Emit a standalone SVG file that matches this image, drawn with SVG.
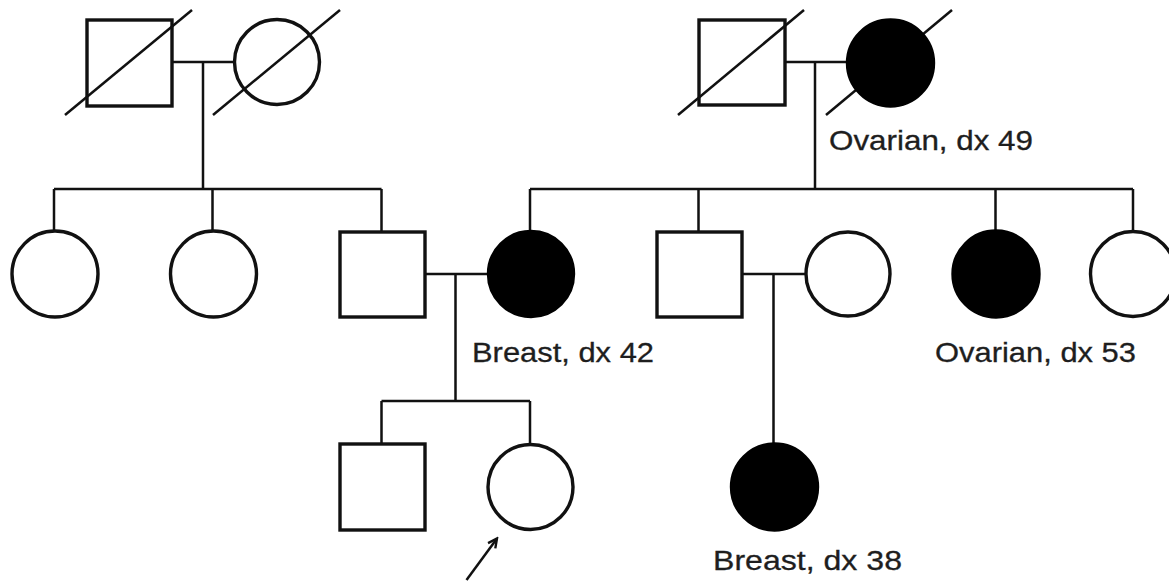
<svg xmlns="http://www.w3.org/2000/svg" width="1169" height="583" viewBox="0 0 1169 583">
  <style>
    .sh { fill: #fff; stroke: #111; stroke-width: 3.4; }
    .aff { fill: #000; stroke: #000; stroke-width: 3.4; }
    .dead { stroke: #111; stroke-width: 2.5; fill: none; }
    .ln { stroke: #111; stroke-width: 2.5; fill: none; }
    .lbl { font-family: "Liberation Sans", Arial, sans-serif; font-size: 27.5px; fill: #1e1e1e; stroke: #1e1e1e; stroke-width: 0.3; }
  </style>
  <defs>
    <marker id="ah" viewBox="0 0 12 12" refX="10" refY="6" markerWidth="12" markerHeight="12" markerUnits="userSpaceOnUse" orient="auto">
      <path d="M1,1.5 L10,6 L1,10.5" fill="none" stroke="#111" stroke-width="2.4"/>
    </marker>
  </defs>
  <rect width="1169" height="583" fill="#fff"/>

  <g id="connectors">
    <path class="ln" d="M172,62 H235 M203,62 V189"/>
    <path class="ln" d="M54,189 H381.5 M54,189 V231 M212.5,189 V231 M381.5,189 V232"/>
    <path class="ln" d="M785,62 H847 M815,62 V189"/>
    <path class="ln" d="M530,189 H1133 M530,189 V231 M698.5,189 V232 M995.5,189 V231 M1133,189 V231"/>
    <path class="ln" d="M425,274 H488 M455.5,274 V401 M381.5,401 H530 M381.5,401 V444 M530,401 V444"/>
    <path class="ln" d="M742,274 H806 M773.5,274 V444"/>
    <line class="ln" x1="466.5" y1="580" x2="497" y2="538.5" marker-end="url(#ah)"/>
  </g>

  <g id="gp_paternal_male">
    <rect class="sh" x="87" y="20" width="85" height="86"/>
    <line class="dead" x1="65" y1="115" x2="192" y2="10"/>
  </g>
  <g id="gp_paternal_female">
    <circle class="sh" cx="277" cy="62" r="42.5"/>
    <line class="dead" x1="213" y1="115" x2="340" y2="10"/>
  </g>
  <g id="gp_maternal_male">
    <rect class="sh" x="699" y="20" width="86" height="85"/>
    <line class="dead" x1="678" y1="115" x2="804" y2="10"/>
  </g>
  <g id="gp_maternal_female">
    <line class="dead" x1="826" y1="115" x2="952" y2="10"/>
    <circle class="aff" cx="890.5" cy="63" r="43"/>
    <text class="lbl" x="829" y="150" textLength="204" lengthAdjust="spacingAndGlyphs">Ovarian, dx 49</text>
  </g>

  <g id="aunt1"><circle class="sh" cx="55" cy="274" r="43"/></g>
  <g id="aunt2"><circle class="sh" cx="213.5" cy="274" r="43"/></g>
  <g id="father"><rect class="sh" x="340" y="232" width="85" height="85"/></g>
  <g id="mother">
    <circle class="aff" cx="531" cy="274" r="42.5"/>
    <text class="lbl" x="472" y="362" textLength="182" lengthAdjust="spacingAndGlyphs">Breast, dx 42</text>
  </g>
  <g id="uncle"><rect class="sh" x="657" y="232" width="85" height="85"/></g>
  <g id="uncle_wife"><circle class="sh" cx="848" cy="274" r="42"/></g>
  <g id="aunt3">
    <circle class="aff" cx="996" cy="274" r="43"/>
    <text class="lbl" x="935" y="362" textLength="201" lengthAdjust="spacingAndGlyphs">Ovarian, dx 53</text>
  </g>
  <g id="aunt4"><circle class="sh" cx="1133" cy="274" r="42.5"/></g>

  <g id="brother"><rect class="sh" x="340" y="444" width="85" height="86"/></g>
  <g id="proband"><circle class="sh" cx="530.5" cy="487" r="42.5"/></g>
  <g id="cousin">
    <circle class="aff" cx="774.5" cy="487" r="43"/>
    <text class="lbl" x="713" y="570" textLength="189" lengthAdjust="spacingAndGlyphs">Breast, dx 38</text>
  </g>
</svg>
